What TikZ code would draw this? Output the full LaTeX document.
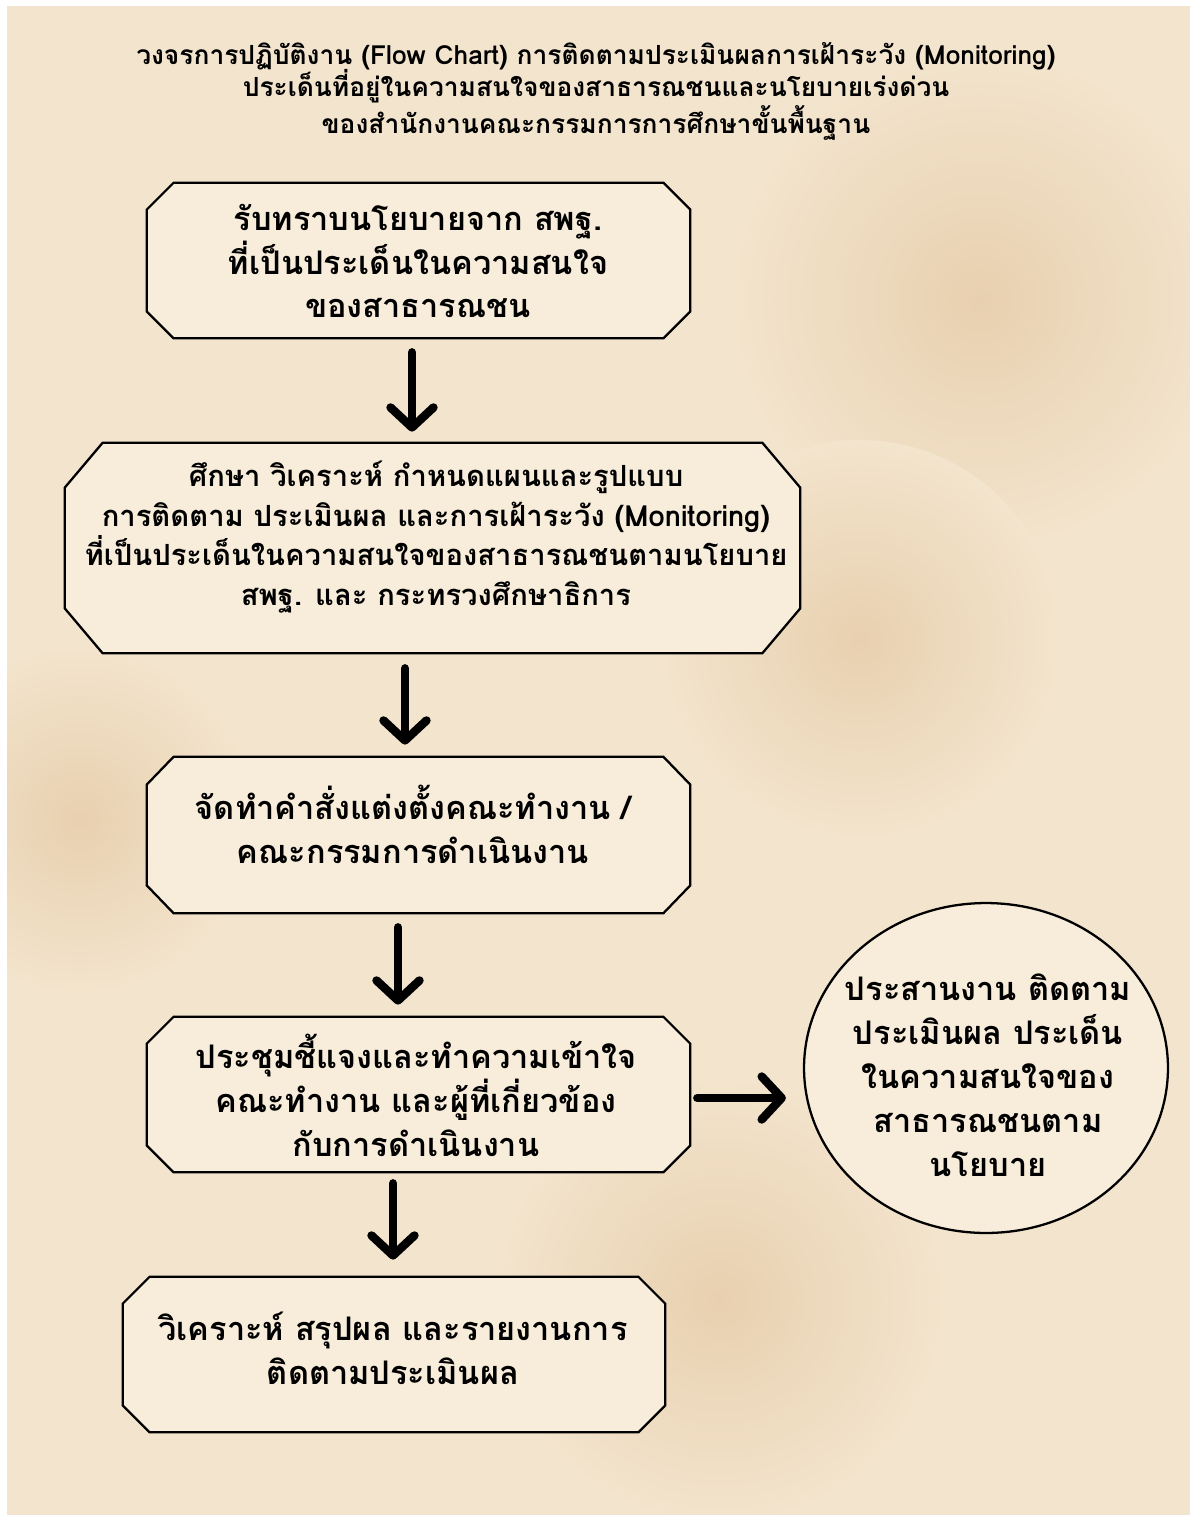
\documentclass[tikz,border=0pt]{standalone}
\usepackage{fontspec}
\newfontfamily\thaifont[Script=Thai]{Loma}
\usetikzlibrary{shapes.geometric,arrows.meta}

\definecolor{bgcol}{HTML}{F3E4CD}
\definecolor{blotcol}{HTML}{E8D0AF}
\definecolor{boxcol}{HTML}{F8EDDB}

% outline with cut corners round a frame node
\newcommand{\chambox}[3]{%
  \draw[line width=1.3pt, fill=boxcol]
    ([xshift=#2]#1.north west) -- ([xshift=-#2]#1.north east)
    -- ([yshift=-#3]#1.north east) -- ([yshift=#3]#1.south east)
    -- ([xshift=-#2]#1.south east) -- ([xshift=#2]#1.south west)
    -- ([yshift=#3]#1.south west) -- ([yshift=-#3]#1.north west) -- cycle;}

\begin{document}
\begin{tikzpicture}[x=0.02cm, y=-0.02cm,
    frame/.style={rectangle, inner sep=0pt},
    steptext/.style={align=center, inner sep=0pt,
      font=\thaifont\bfseries\fontsize{18.5}{25}\selectfont},
    flow/.style={line width=4.8pt, line cap=round,
      -{Straight Barb[length=0.4cm, width=0.86cm, round, line width=4.8pt]}}]
  % background
  \useasboundingbox (0,0) rectangle (1190,1515);
  \fill[white] (0,0) rectangle (1190,1515);
  \fill[bgcol] (7,6) rectangle (1190,1515);
  \begin{scope}
    \clip (7,6) rectangle (1190,1515);
    \shade[inner color=blotcol, outer color=bgcol] (980,300) circle [radius=5cm];
    \shade[inner color=blotcol, outer color=bgcol] (860,640) circle [radius=4cm];
    \shade[inner color=blotcol, outer color=bgcol] (80,820) circle [radius=3.5cm];
    \shade[inner color=blotcol, outer color=bgcol] (720,1300) circle [radius=4.5cm];
  \end{scope}

  % title
  \node[align=center, font=\thaifont\bfseries\fontsize{15}{18.7}\selectfont] (title) at (596,91)
    {วงจรการปฏิบัติงาน (Flow Chart) การติดตามประเมินผลการเฝ้าระวัง (Monitoring)\\
     ประเด็นที่อยู่ในความสนใจของสาธารณชนและนโยบายเร่งด่วน\\
     ของสำนักงานคณะกรรมการการศึกษาขั้นพื้นฐาน};

  % steps
  \node[frame, minimum width=10.86cm, minimum height=3.1cm] (recv) at (418.5,260.5) {};
  \chambox{recv}{0.54cm}{0.54cm}
  \node[steptext] (recv-t) at (418,261)
    {รับทราบนโยบายจาก สพฐ.\\ ที่เป็นประเด็นในความสนใจ\\ ของสาธารณชน};

  \node[frame, minimum width=14.7cm, minimum height=4.2cm] (plan) at (432.5,548) {};
  \chambox{plan}{0.76cm}{0.9cm}
  \node[steptext, font=\thaifont\bfseries\fontsize{16.6}{22.7}\selectfont] (plan-t) at (436,537)
    {ศึกษา วิเคราะห์ กำหนดแผนและรูปแบบ\\
     การติดตาม ประเมินผล และการเฝ้าระวัง (Monitoring)\\
     ที่เป็นประเด็นในความสนใจของสาธารณชนตามนโยบาย\\
     สพฐ. และ กระทรวงศึกษาธิการ};

  \node[frame, minimum width=10.86cm, minimum height=3.12cm] (order) at (418.5,835) {};
  \chambox{order}{0.54cm}{0.56cm}
  \node[steptext] (order-t) at (413,824)
    {จัดทำคำสั่งแต่งตั้งคณะทำงาน /\\ คณะกรรมการดำเนินงาน};

  \node[frame, minimum width=10.86cm, minimum height=3.1cm] (meet) at (418.5,1094.5) {};
  \chambox{meet}{0.54cm}{0.54cm}
  \node[steptext] (meet-t) at (416,1095)
    {ประชุมชี้แจงและทำความเข้าใจ\\ คณะทำงาน และผู้ที่เกี่ยวข้อง\\ กับการดำเนินงาน};

  \node[frame, minimum width=10.84cm, minimum height=3.1cm] (report) at (394,1354.5) {};
  \chambox{report}{0.54cm}{0.54cm}
  \node[steptext] (report-t) at (393,1348)
    {วิเคราะห์ สรุปผล และรายงานการ\\ ติดตามประเมินผล};

  \node[ellipse, draw=black, line width=1.3pt, fill=boxcol, inner sep=0pt,
    minimum width=7.28cm, minimum height=6.6cm] (coord) at (986,1068) {};
  \node[steptext] (coord-t) at (988,1075)
    {ประสานงาน ติดตาม\\ ประเมินผล ประเด็น\\ ในความสนใจของ\\ สาธารณชนตาม\\ นโยบาย};

  % arrows
  \draw[flow, shorten <=0.28cm, shorten >=0.22cm] (412,0 |- recv.south) -- (412,0 |- plan.north);
  \draw[flow, shorten <=0.3cm, shorten >=0.24cm] (405,0 |- plan.south) -- (405,0 |- order.north);
  \draw[flow, shorten <=0.28cm, shorten >=0.24cm] (398,0 |- order.south) -- (398,0 |- meet.north);
  \draw[flow, shorten <=0.22cm, shorten >=0.34cm] (393,0 |- meet.south) -- (393,0 |- report.north);
  \draw[flow, shorten <=0.14cm, shorten >=0.34cm] (0,1098 -| meet.east) -- (0,1098 -| coord.west);
\end{tikzpicture}
\end{document}
